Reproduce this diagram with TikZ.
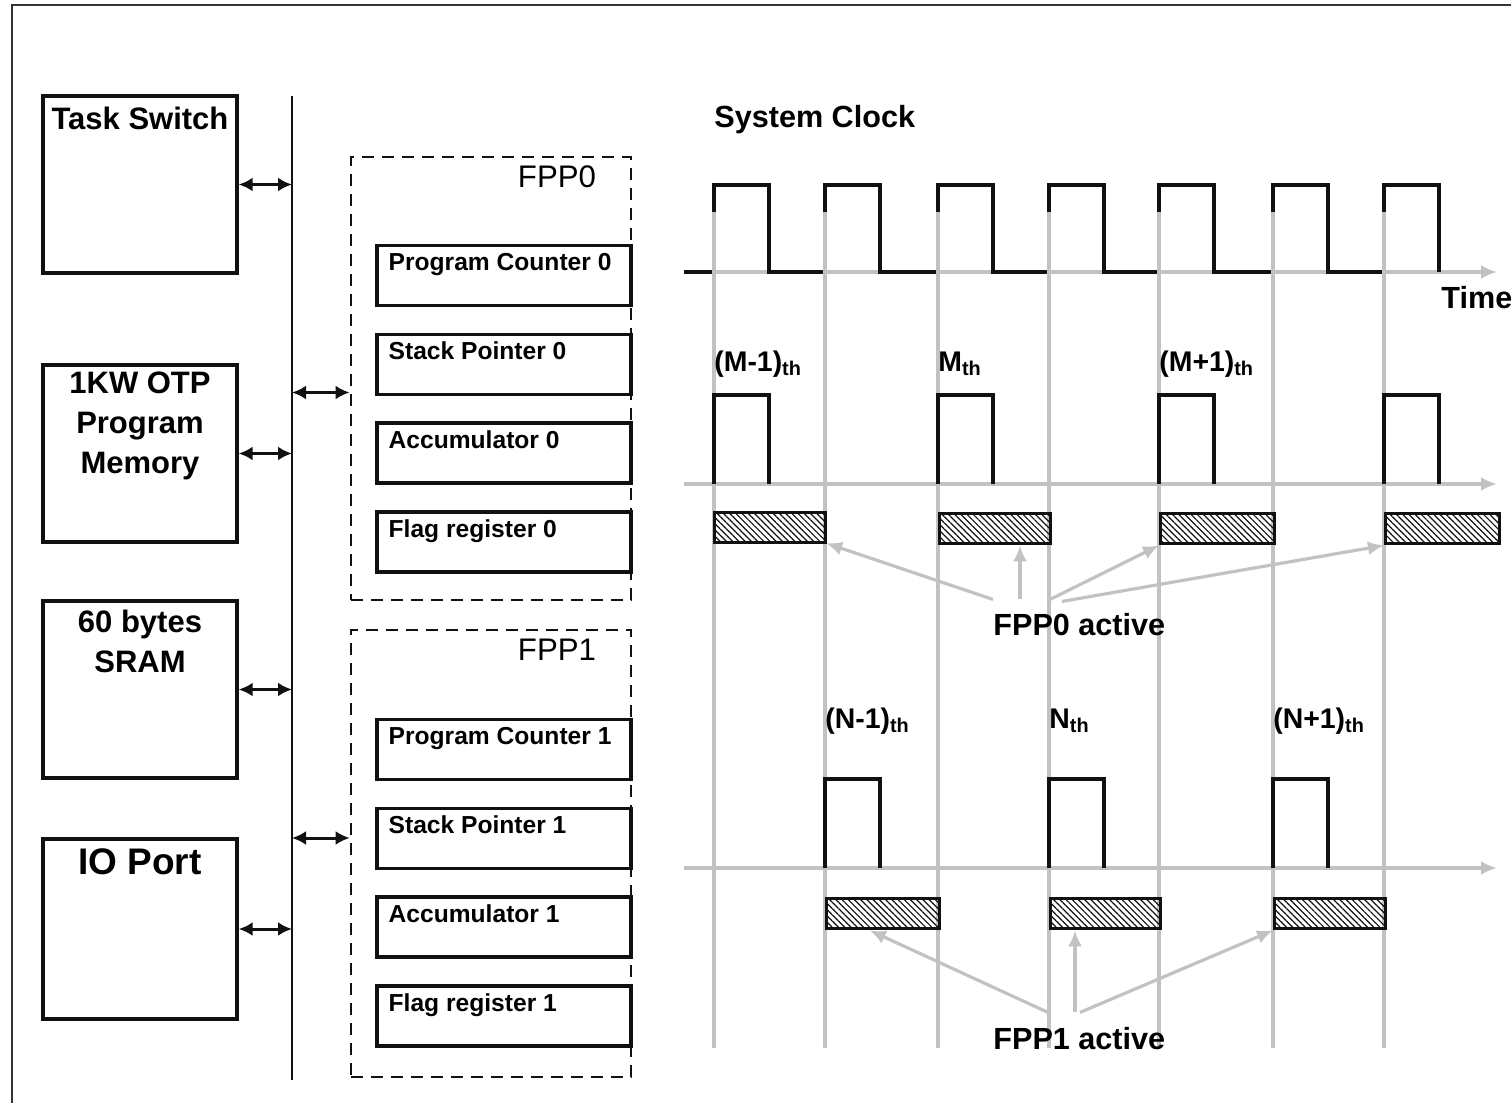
\documentclass[tikz,border=0pt]{standalone}
\usepackage{fontspec}
\setmainfont{Liberation Sans}
\usepackage{tikz}
\usetikzlibrary{arrows.meta,positioning,calc,patterns.meta}
\definecolor{Ink}{HTML}{111111}
\definecolor{Guide}{HTML}{C2C2C2}
\tikzset{
  frame/.style={draw=Ink!85,line width=1.3pt},
  cpubox/.style={draw=Ink,line width=1.7pt,minimum width=97pt,minimum height=88.5pt,inner sep=0pt},
  boxtitle/.style={anchor=north,font=\bfseries\fontsize{15.5}{20}\selectfont,align=center,inner sep=0pt},
  bus/.style={draw=Ink,line width=1pt},
  biarrow/.style={{Latex[length=7pt,width=7pt]}-{Latex[length=7pt,width=7pt]},line width=1.5pt,draw=Ink},
  fppbox/.style={draw=Ink,line width=1.4pt,dash pattern=on 6pt off 4pt,minimum width=140pt,inner sep=0pt},
  fpplabel/.style={anchor=north east,font=\fontsize{15.6}{18}\selectfont,inner sep=0pt},
  regbox/.style={draw=Ink,line width=1.7pt,minimum width=127pt,minimum height=30pt,inner sep=0pt},
  regtext/.style={anchor=north west,font=\bfseries\fontsize{12.3}{14}\selectfont,inner sep=0pt},
  guide/.style={draw=Guide,line width=1.7pt},
  timeaxis/.style={draw=Guide,line width=1.6pt,-{Latex[length=8pt,width=7pt]}},
  wave/.style={draw=Ink,line width=1.6pt},
  slot/.style={draw=Ink,line width=1.7pt,anchor=north west,minimum height=15pt,inner sep=0pt,
    pattern={Lines[angle=-45,distance=2.2pt,line width=0.6pt]},pattern color=Ink},
  cyclab/.style={anchor=base west,font=\bfseries\fontsize{14.2}{16}\selectfont,inner sep=0pt},
  heading/.style={anchor=base west,font=\bfseries\fontsize{15.3}{18}\selectfont,inner sep=0pt},
  pointer/.style={draw=Guide,line width=1.6pt,-{Latex[length=8pt,width=7pt]}}
}

\begin{document}
\begin{tikzpicture}[x=0.5pt,y=-0.5pt]
  \useasboundingbox (0,0) rectangle (1511,1103);
  \draw[frame] (12,1110) -- (12,5) -- (1520,5);

  % left side blocks
  \node[cpubox] (task) at (140,184.5) {};
  \node[cpubox] (otp) at (140,453.5) {};
  \node[cpubox] (sram) at (140,689.5) {};
  \node[cpubox,minimum height=90pt] (io) at (140,929) {};
  \node[boxtitle] at ([yshift=-6pt]task.north) {Task Switch};
  \node[boxtitle] at ([yshift=-4pt]otp.north) {1KW OTP\\Program\\Memory};
  \node[boxtitle] at ([yshift=-5pt]sram.north) {60 bytes\\SRAM};
  \node[boxtitle,font=\bfseries\fontsize{18.5}{22}\selectfont] at ([yshift=-5.5pt]io.north) {IO Port};

  \coordinate (busTop) at (292,96);
  \coordinate (busBot) at (292,1080);
  \draw[bus] (busTop) -- (busBot);

  % register files
  \node[fppbox,minimum height=221.5pt] (fpp0) at (491,378.5) {};
  \node[fppbox,minimum height=223.5pt] (fpp1) at (491,853.5) {};
  \node[fpplabel] at ([xshift=-18pt,yshift=-5pt]fpp0.north east) {FPP0};
  \node[fpplabel] at ([xshift=-18pt,yshift=-5pt]fpp1.north east) {FPP1};
  \foreach \p/\dy in {0/0,1/474} {
    \foreach \k/\ttl in {0/Program Counter,1/Stack Pointer,2/Accumulator,3/Flag register} {
      \node[regbox,fill=white] (reg\p\k) at (504,275.5+\dy+88.8*\k) {};
      \node[regtext] at ([xshift=6.5pt,yshift=-4.5pt]reg\p\k.north west) {\ttl\ \p};
    }
  }

  \foreach \blk in {task,otp,sram,io}
    \draw[biarrow] (\blk.east) -- (\blk.east -| busTop);
  \draw[biarrow] ([yshift=-7pt]fpp0.west -| busTop) -- ([yshift=-7pt]fpp0.west);
  \draw[biarrow] ([yshift=7.75pt]fpp1.west -| busTop) -- ([yshift=7.75pt]fpp1.west);

  % timing
  \node[heading] at (714,127) {System Clock};
  \node[heading] at (1441,308) {Time};
  \foreach \y in {272,484,868}
    \draw[timeaxis] (684,\y) -- (1497,\y);
  \draw[wave] (684,272) \foreach \x in {714,825,938,1049,1159,1273,1384} {
    -- (\x,272) -- (\x,185) -- (\x+55,185) -- (\x+55,272) };
  \foreach \x in {714,825,938,1049,1159,1273,1384}
    \draw[guide] (\x,212) -- (\x,1048);
  \foreach \x in {714,938,1159,1384}
    \draw[wave] (\x,484) |- (\x+55,395) -- (\x+55,484);
  \foreach \x in {825,1049,1273}
    \draw[wave] (\x,868) |- (\x+55,779) -- (\x+55,868);

  \foreach \nm/\x/\w in {a1/714/111,a2/938/111,a3/1159/114,a4/1384/114}
    \node[slot,minimum width=\w*0.5pt] (\nm) at (\x,512) {};
  \foreach \nm/\x/\w in {b1/825/113,b2/1049/110,b3/1273/111}
    \node[slot,minimum width=\w*0.5pt] (\nm) at (\x,897) {};

  \node[cyclab] at (714,371) {(M-1)\textsubscript{th}};
  \node[cyclab] at (938,371) {M\textsubscript{th}};
  \node[cyclab] at (1159,371) {(M+1)\textsubscript{th}};
  \node[cyclab] at (825,728) {(N-1)\textsubscript{th}};
  \node[cyclab] at (1049,728) {N\textsubscript{th}};
  \node[cyclab] at (1273,728) {(N+1)\textsubscript{th}};

  \node[heading] (act0) at (993,635) {FPP0 active};
  \node[heading] (act1) at (993,1049) {FPP1 active};
  \coordinate (src0) at ([yshift=6.5pt]act0.north west);
  \coordinate (src1) at ([yshift=7pt]act1.north west);
  \draw[pointer] (src0) -- (a1.south east);
  \draw[pointer] ([xshift=13.5pt]src0) -- ([xshift=13.5pt]src0 |- a2.south);
  \draw[pointer] ([xshift=28.5pt]src0) -- (a3.south west);
  \draw[pointer] ([xshift=34.5pt,yshift=-1pt]src0) -- (a4.south west);
  \draw[pointer] ([xshift=27.5pt]src1) -- ([xshift=-6.75pt]b1.south);
  \draw[pointer] ([xshift=41pt]src1) -- ([xshift=41pt]src1 |- b2.south);
  \draw[pointer] ([xshift=43.5pt]src1) -- (b3.south west);
\end{tikzpicture}
\end{document}
